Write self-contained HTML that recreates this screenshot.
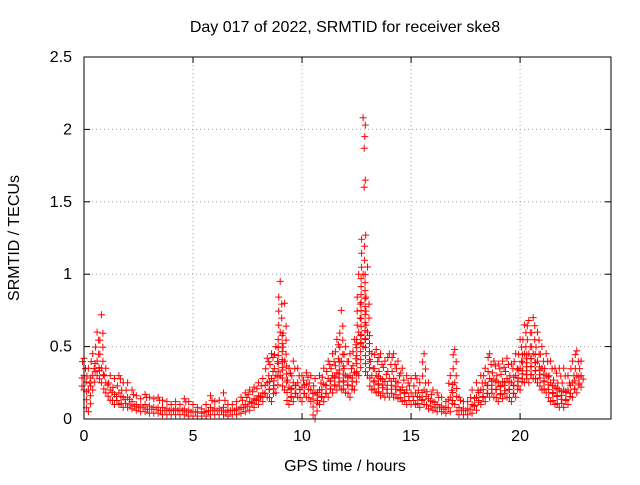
<!DOCTYPE html>
<html><head><meta charset="utf-8"><style>
body{margin:0;background:#fff;font-family:"Liberation Sans",sans-serif}
svg text{font-family:"Liberation Sans",sans-serif;font-size:16px;fill:#000}
</style></head><body>
<svg id="chart" width="640" height="480" xmlns="http://www.w3.org/2000/svg">
<text x="345" y="32" text-anchor="middle">Day 017 of 2022, SRMTID for receiver ske8</text>
<text x="345" y="471" text-anchor="middle">GPS time / hours</text>
<text transform="translate(19,238) rotate(-90)" text-anchor="middle">SRMTID / TECUs</text>
<g id="grid"></g>
<g id="marks"></g>
<rect x="84" y="57" width="527" height="362" fill="none" stroke="#000" stroke-width="1"/>
</svg>
<script>
const xTicks=[0,5,10,15,20];
const yTicks=[0,0.5,1,1.5,2,2.5];
const yTickLabels=["0","0.5","1","1.5","2","2.5"];
const times=[0,0.2,0.4,0.6,0.8,1,1.2,1.4,1.6,1.8,2,2.2,2.4,2.6,2.8,3,3.2,3.4,3.6,3.8,4,4.2,4.4,4.6,4.8,5,5.2,5.4,5.6,5.8,6,6.2,6.4,6.6,6.8,7,7.2,7.4,7.6,7.8,8,8.2,8.4,8.6,8.8,9,9.2,9.4,9.6,9.8,10,10.2,10.4,10.6,10.8,11,11.2,11.4,11.6,11.8,12,12.2,12.4,12.6,12.8,13,13.2,13.4,13.6,13.8,14,14.2,14.4,14.6,14.8,15,15.2,15.4,15.6,15.8,16,16.2,16.4,16.6,16.8,17,17.2,17.4,17.6,17.8,18,18.2,18.4,18.6,18.8,19,19.2,19.4,19.6,19.8,20,20.2,20.4,20.6,20.8,21,21.2,21.4,21.6,21.8,22,22.2,22.4,22.6,22.8];
const upper=[.42,.35,.45,.6,.72,.35,.3,.28,.3,.25,.25,.2,.16,.14,.17,.15,.14,.15,.13,.12,.1,.12,.1,.14,.12,.1,.08,.07,.1,.16,.12,.13,.18,.1,.1,.12,.15,.18,.2,.22,.25,.28,.42,.45,.5,.95,.8,.35,.4,.35,.3,.32,.3,.28,.3,.35,.4,.45,.55,.75,.5,.45,.55,1.0,2.08,1.05,.45,.48,.45,.4,.45,.45,.4,.35,.3,.28,.3,.25,.45,.25,.2,.18,.15,.12,.3,.48,.15,.12,.12,.2,.25,.3,.35,.45,.4,.38,.4,.42,.38,.45,.55,.65,.68,.7,.6,.5,.45,.4,.35,.35,.35,.3,.4,.47,.4];
const middle=[.3,.2,.3,.4,.35,.25,.2,.17,.18,.15,.15,.12,.1,.09,.1,.09,.08,.08,.08,.07,.06,.07,.06,.07,.06,.05,.05,.04,.05,.08,.07,.07,.08,.06,.06,.07,.08,.1,.12,.14,.16,.18,.25,.28,.3,.6,.4,.22,.25,.25,.22,.24,.2,.18,.2,.24,.28,.3,.32,.4,.3,.3,.32,.6,1.0,.6,.3,.3,.28,.26,.28,.28,.25,.22,.2,.18,.18,.15,.2,.14,.12,.1,.09,.08,.15,.25,.08,.07,.07,.1,.15,.2,.25,.28,.27,.25,.26,.28,.25,.3,.35,.45,.45,.45,.4,.35,.3,.25,.22,.2,.2,.2,.25,.3,.3];
const lower=[.2,.05,.2,.3,.25,.18,.13,.1,.1,.08,.08,.07,.06,.05,.05,.04,.04,.04,.03,.03,.03,.03,.03,.03,.02,.02,.02,.02,.02,.03,.03,.03,.03,.02,.03,.03,.04,.05,.06,.08,.1,.12,.15,.12,.18,.3,.2,.1,.12,.15,.12,.15,.12,0,.1,.12,.15,.18,.2,.2,.18,.15,.2,.3,.5,.3,.2,.18,.16,.15,.15,.15,.14,.12,.1,.1,.1,.08,.1,.07,.06,.05,.05,.04,.05,.1,.03,.03,.03,.04,.06,.1,.12,.15,.15,.12,.14,.15,.12,.15,.2,.25,.25,.28,.25,.2,.18,.12,.1,.08,.08,.1,.15,.18,.22];
const peakTimes=[12.85,12.9,12.85,12.88,12.9,12.92];
const peakValues=[1.6,1.65,1.87,1.95,2.03,1.27];
const X0=84,X1=611,XMAX=24.17,Y0=419,Y1=57,YMAX=2.5;
const sx=v=>X0+(X1-X0)*v/XMAX;
const sy=v=>Y0-(Y0-Y1)*v/YMAX;
const NS="http://www.w3.org/2000/svg";
const grid=document.getElementById('grid'),marks=document.getElementById('marks');
function mk(tag,attrs,parent){const e=document.createElementNS(NS,tag);for(const k in attrs)e.setAttribute(k,attrs[k]);parent.appendChild(e);return e;}
xTicks.forEach((t,i)=>{const x=sx(t);
 if(t>0){const g=mk('line',{x1:x,x2:x,y1:Y1,y2:Y0,stroke:'#a0a0a0','stroke-dasharray':'1,3'},grid);
 
 }
 mk('line',{x1:x,x2:x,y1:Y0,y2:Y0-6,stroke:'#000'},grid);
 mk('line',{x1:x,x2:x,y1:Y1,y2:Y1+6,stroke:'#000'},grid);
 const l=mk('text',{x:x,y:Y0+22,'text-anchor':'middle'},grid);l.textContent=String(t);
 
 });
yTicks.forEach((t,i)=>{const y=sy(t);
 if(t>0&&t<YMAX){const g=mk('line',{x1:X0,x2:X1,y1:y,y2:y,stroke:'#a0a0a0','stroke-dasharray':'1,3'},grid);
 
 }
 mk('line',{x1:X0,x2:X0+6,y1:y,y2:y,stroke:'#000'},grid);
 mk('line',{x1:X1,x2:X1-6,y1:y,y2:y,stroke:'#000'},grid);
 const l=mk('text',{x:X0-12,y:y+5,'text-anchor':'end'},grid);l.textContent=yTickLabels[i];
 
 });
let d='';
function plus(x,y){d+=`M${(x-3.5).toFixed(1)},${y.toFixed(1)}h7M${x.toFixed(1)},${(y-3.5).toFixed(1)}v7`;}
times.forEach((t,i)=>{
 const x=sx(t),yl=sy(lower[i]),ym=sy(middle[i]),yu=sy(upper[i]);
 plus(x,yl);plus(x,ym);plus(x,yu);
 let k=0;
 for(let y=yl-4;y>ym;y-=4){plus(x+((k%2)?2:-2),y);k++;}
 let n=0;
 for(let y=ym-7;y>yu+3&&n<5;y-=7){plus(x+((k%2)?1.5:-1.5),y);k++;n++;}
});
peakTimes.forEach((t,i)=>plus(sx(t),sy(peakValues[i])));
const p=mk('path',{d:d,stroke:'#ff0000','stroke-width':1,fill:'none'},marks);


</script>
</body></html>
